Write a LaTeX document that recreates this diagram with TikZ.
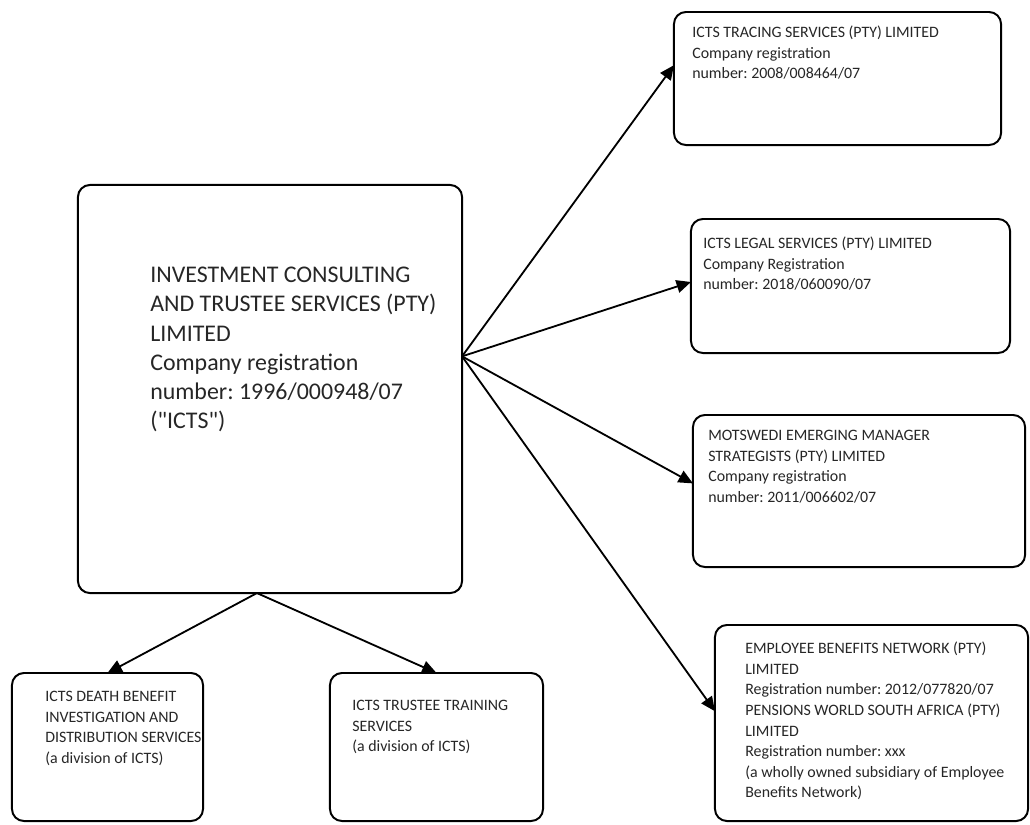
\documentclass[tikz,border=0pt]{standalone}
\usepackage{fontspec}
\setmainfont{Carlito}
\newfontfamily\calib{Carlito}
\usepackage{tikz}
\usetikzlibrary{positioning}
\usetikzlibrary{calc}
\usetikzlibrary{arrows.meta}
\tikzset{>={Triangle[length=3.6mm,width=3.2mm]}}
\tikzstyle{line} = [draw, ->, line width=1.3pt]
\frenchspacing

\begin{document}
\begin{tikzpicture}[x=0.025cm, y=-0.025cm,
	box/.style={draw, rectangle, rounded corners=3mm, line width=1.4pt,
		inner sep=0pt, outer sep=0pt},
	txt/.style={anchor=north west, inner sep=0pt, align=left, text=black!85,
		font=\calib\fontsize{11.3}{14.6}\selectfont},
	bigtxt/.style={txt, font=\calib\fontsize{17}{20.7}\selectfont}]
	\useasboundingbox (0,0) rectangle (1030,824);
	%% Boxes
	\node [box, minimum width=9.6cm, minimum height=10.2cm] at (270,389) (icts) {};
	\node [box, minimum width=8.175cm, minimum height=3.325cm] at (837.5,78.5) (tracing) {};
	\node [box, minimum width=7.975cm, minimum height=3.35cm] at (850.5,286) (legal) {};
	\node [box, minimum width=8.3cm, minimum height=3.8cm] at (859,491) (motswedi) {};
	\node [box, minimum width=7.825cm, minimum height=4.9cm] at (871.5,723) (ebn) {};
	\node [box, minimum width=4.775cm, minimum height=3.7cm] at (107.5,747) (death) {};
	\node [box, minimum width=5.325cm, minimum height=3.7cm] at (436.5,747) (training) {};
	%% Texts
	\node [bigtxt] at (150,267) (ictsText) {INVESTMENT CONSULTING\\AND TRUSTEE SERVICES (PTY)\\LIMITED\\Company registration\\number: 1996/000948/07\\("ICTS")};
	\node [txt] at (692,26) (tracingText) {ICTS TRACING SERVICES (PTY) LIMITED\\Company registration\\number: 2008/008464/07};
	\node [txt] at (703,237) (legalText) {ICTS LEGAL SERVICES (PTY) LIMITED\\Company Registration\\number: 2018/060090/07};
	\node [txt] at (708,430) (motswediText) {MOTSWEDI EMERGING MANAGER\\STRATEGISTS (PTY) LIMITED\\Company registration\\number: 2011/006602/07};
	\node [txt] at (745,642) (ebnText) {EMPLOYEE BENEFITS NETWORK (PTY)\\LIMITED\\Registration number: 2012/077820/07\\PENSIONS WORLD SOUTH AFRICA (PTY)\\LIMITED\\Registration number: xxx\\(a wholly owned subsidiary of Employee\\Benefits Network)};
	\node [txt] at (45,691) (deathText) {ICTS DEATH BENEFIT\\INVESTIGATION AND\\DISTRIBUTION SERVICES\\(a division of ICTS)};
	\node [txt] at (352,700) (trainingText) {ICTS TRUSTEE TRAINING\\SERVICES\\(a division of ICTS)};
	%% Flows
	\coordinate (hub) at ($(icts.north east)!0.42!(icts.south east)$);
	\coordinate (foot) at ($(icts.south west)!0.466!(icts.south east)$);
	\path [line] (hub) -- ($(tracing.north west)!0.40!(tracing.south west)$);
	\path [line] (hub) -- ($(legal.north west)!0.47!(legal.south west)$);
	\path [line] (hub) -- ($(motswedi.north west)!0.45!(motswedi.south west)$);
	\path [line] (hub) -- ($(ebn.north west)!0.44!(ebn.south west)$);
	\path [line] (foot) -- (death.north);
	\path [line] (foot) -- (training.north);
\end{tikzpicture}
\end{document}
